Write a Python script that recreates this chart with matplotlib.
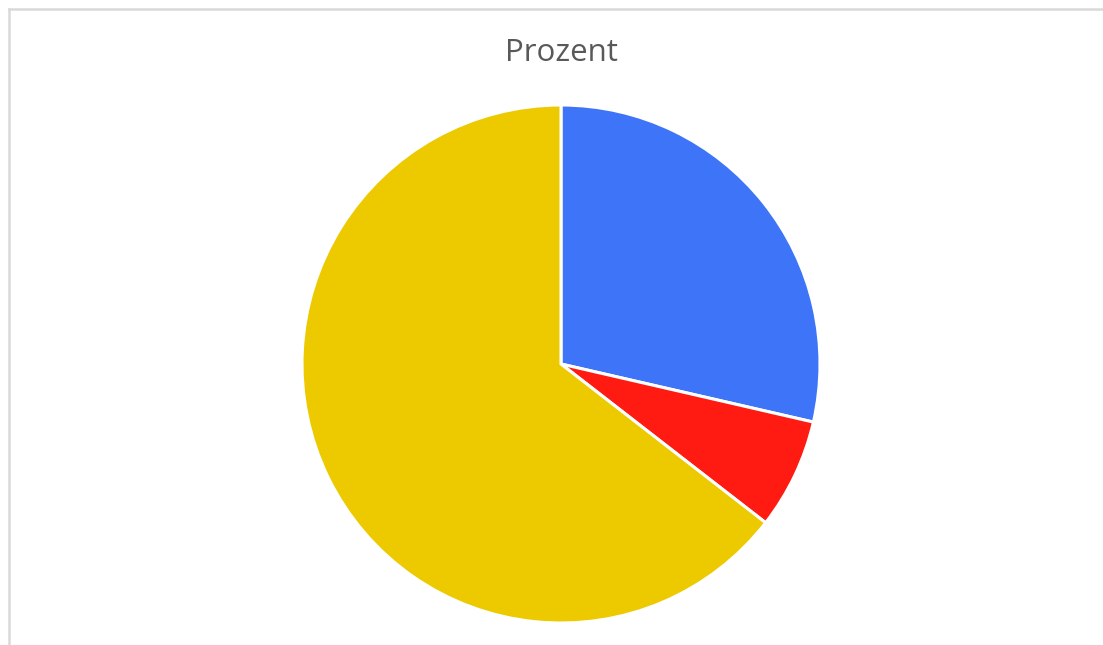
import matplotlib
matplotlib.use("Agg")
import matplotlib.pyplot as plt
from matplotlib.lines import Line2D

labels = ["Blau", "Rot", "Gelb"]
prozent = [28.6, 6.9, 64.5]
colors = ["#3D74F8", "#FF1B12", "#EDC900"]

W, H = 1103, 645
fig = plt.figure(figsize=(W / 100, H / 100), dpi=100)

# light grey chart frame (left and top edge visible)
frame = dict(color="#D9D9D9", lw=1.8, transform=fig.transFigure)
fig.add_artist(Line2D([8.5 / W, 8.5 / W], [0, 1 - 8.5 / H], **frame))
fig.add_artist(Line2D([8.5 / W, 1], [1 - 8.5 / H, 1 - 8.5 / H], **frame))

cx, cy, r = 561, 364, 259
ax = fig.add_axes([(cx - r) / W, (H - cy - r) / H, 2 * r / W, 2 * r / H])
ax.pie(prozent, colors=colors, startangle=90, counterclock=False,
       wedgeprops=dict(edgecolor="white", linewidth=2.2))
ax.set_xlim(-1, 1)
ax.set_ylim(-1, 1)
ax.set_aspect("equal")
ax.axis("off")

fig.text(561 / W, 1 - 53 / H, "Prozent", ha="center", va="center",
         fontsize=22.5, color="#595959", family="Open Sans")

fig.savefig("out.png", dpi=100)
